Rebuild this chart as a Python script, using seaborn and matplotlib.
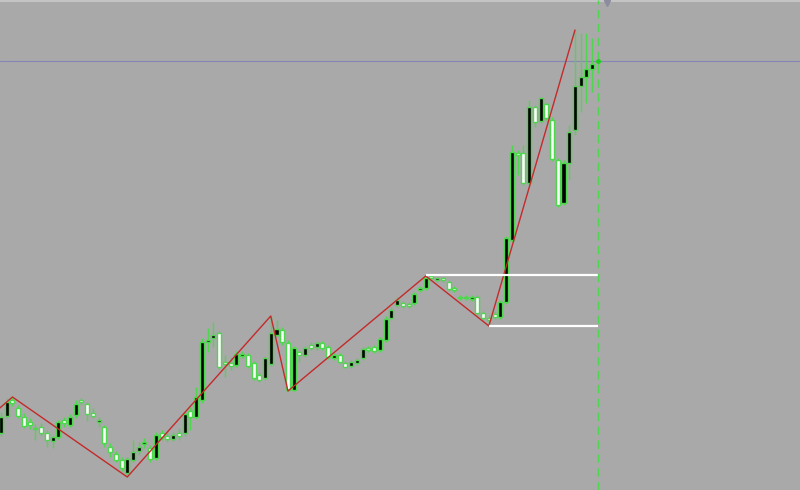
import numpy as np
import seaborn as sns
import matplotlib.pyplot as plt

# candle data (screen y in px, converted to price below)
# kind: 'B' = up candle (black body), 'W' = down candle (white body)
kind = list('BBWWWWWWWBBWBBWWWBWW'
            'WWBBBBWBWWBWBWBBBBWW'
            'WBBWWWBBBWWBWBWBWWBW'
            'WBBBWWBBBBWWBBBWBWWW'
            'WWBWWWWBBBWWBWBWWWBB'
            'BBBBB')
body_top = [417, 402, 400, 408, 417, 422, 428, 427, 433, 437, 422, 420, 417, 404, 400, 404, 413, 420, 427, 447,
            454, 460, 459, 452, 447, 442, 448, 435, 433, 436, 435, 433, 414, 411, 397, 342, 340, 335, 333, 362,
            363, 354, 354, 355, 363, 375, 358, 333, 329, 330, 343, 348, 352, 348, 345, 343, 343, 347, 355, 355,
            363, 362, 360, 349, 348, 347, 339, 319, 310, 300, 303, 304, 294, 288, 278, 276, 278, 278, 282, 288,
            297, 297, 297, 297, 313, 318, 314, 302, 238, 152, 153, 153, 107, 107, 98, 104, 120, 160, 163, 132,
            86, 77, 69, 64, 61]
body_bot = [433, 416, 403, 416, 426, 425, 429, 433, 440, 441, 437, 423, 425, 415, 402, 414, 416, 422, 443, 452,
            460, 468, 473, 460, 451, 444, 459, 458, 437, 439, 439, 436, 433, 417, 417, 400, 342, 338, 367, 364,
            366, 365, 356, 366, 378, 380, 378, 364, 335, 342, 390, 390, 355, 355, 348, 347, 348, 357, 358, 362,
            367, 366, 363, 358, 350, 351, 350, 340, 318, 305, 306, 306, 303, 290, 288, 278, 280, 280, 289, 290,
            298, 298, 299, 313, 318, 320, 317, 317, 302, 240, 155, 183, 183, 122, 121, 118, 159, 205, 203, 163,
            130, 86, 77, 69, 62]
wick_top = [412, 398, 397, 405, 413, 418, 424, 423, 430, 435, 420, 417, 414, 400, 398, 402, 408, 417, 425, 443,
            451, 457, 457, 440, 442, 438, 445, 432, 430, 432, 432, 428, 411, 407, 387, 338, 328, 322, 331, 355,
            357, 351, 351, 353, 361, 372, 356, 316, 320, 327, 340, 346, 350, 346, 342, 341, 341, 345, 353, 353,
            361, 360, 358, 347, 346, 345, 337, 316, 307, 297, 301, 302, 292, 286, 276, 277, 277, 277, 280, 286,
            295, 295, 295, 295, 311, 315, 311, 300, 236, 145, 150, 145, 100, 105, 97, 103, 117, 158, 160, 125,
            30, 33, 33, 38, 55]
wick_bot = [436, 418, 406, 418, 428, 429, 440, 436, 447, 448, 439, 427, 427, 418, 405, 421, 418, 427, 447, 457,
            462, 471, 477, 462, 455, 448, 462, 460, 440, 442, 441, 440, 436, 430, 419, 403, 352, 347, 369, 377,
            370, 367, 358, 368, 380, 382, 380, 366, 337, 345, 391, 391, 362, 357, 350, 350, 350, 359, 360, 363,
            368, 368, 365, 360, 352, 353, 352, 342, 320, 307, 308, 308, 305, 292, 290, 280, 282, 282, 291, 292,
            300, 300, 301, 315, 320, 326, 319, 319, 304, 242, 175, 185, 185, 127, 123, 120, 161, 207, 205, 180,
            135, 112, 103, 92, 65]

# zigzag turning points: bar index and screen y
zz_bar = [-3, 2, 22, 47, 50, 74, 85, 100]
zz_y = [422, 397, 477, 316, 391, 276, 326, 30]

H = 490
top_p = H - np.array(body_top)
bot_p = H - np.array(body_bot)
hi_p = H - np.array(wick_top)
lo_p = H - np.array(wick_bot)
bars = np.arange(len(kind))

bid = H - 61
lvl_hi = H - 275
lvl_lo = H - 326

sns.set_style('white')
bg = '#a9a9a9'
green = '#4fd64f'

fig = plt.figure(figsize=(8, 4.9), dpi=100, facecolor=bg)
ax = fig.add_axes([0, 0, 1, 1])
ax.set_facecolor(bg)

ax.vlines(bars, lo_p, hi_p, color=green, lw=1, zorder=2)
fills = ['black' if k == 'B' else 'white' for k in kind]
heights = np.maximum(top_p - bot_p, 0.8)
ax.bar(bars, heights, bottom=bot_p, width=0.7, color=fills, edgecolor=green,
       linewidth=1, zorder=3)

sns.lineplot(x=zz_bar, y=H - np.array(zz_y), color='#c42a2a', lw=1, sort=False,
             ax=ax, zorder=4)

ax.hlines([lvl_hi, lvl_lo], [74, 85], [104, 104], color='white', lw=1.6, zorder=4)
ax.axhline(bid, color='#8585b8', lw=0.8, zorder=1)
ax.axvline(104, color=green, lw=1, ls=(0, (6, 4)), zorder=5)
ax.plot([104], [bid], marker='o', ms=2.5, color='#22cc22', zorder=6)
ax.plot([105.6], [H - 3], marker='v', ms=4, color='#8c8ca0', zorder=6)
ax.axhline(H - 0.8, color='#c4c4c4', lw=1.5)

ax.set_xlim(-0.17, 139.2)
ax.set_ylim(0, H)
ax.set_axis_off()

fig.savefig('out.png', dpi=100, facecolor=bg)
